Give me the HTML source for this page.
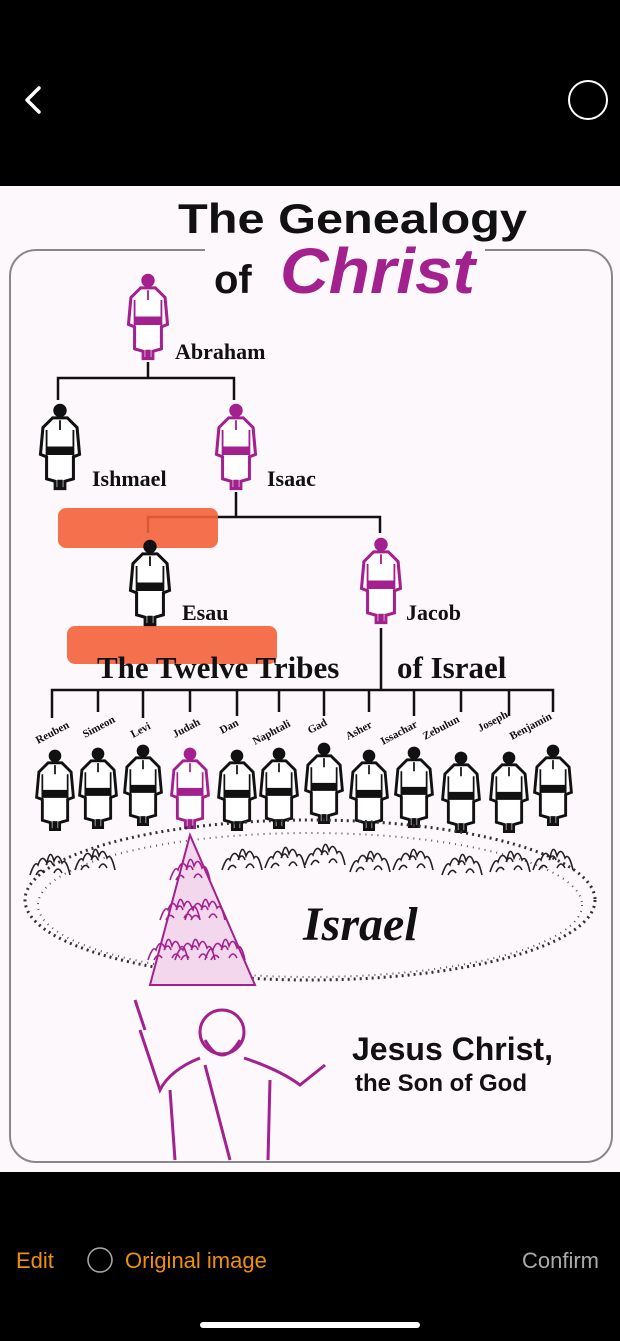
<!DOCTYPE html>
<html><head><meta charset="utf-8"><style>
html,body{margin:0;padding:0;width:620px;height:1341px;background:#000;overflow:hidden}
svg{display:block}
</style></head><body>
<svg width="620" height="1341" viewBox="0 0 620 1341" xmlns="http://www.w3.org/2000/svg">
<defs>
<g id="fig">
<circle cx="0" cy="-34" r="5"/>
<path d="M-6,-28 L6,-28 L14,-20 L16,2 L11,4 L11,22 L4,24 L4,30 L1,30 L1,24 L-1,24 L-1,30 L-4,30 L-4,24 L-11,22 L-11,4 L-16,2 L-14,-20 Z" fill="#fff" stroke-width="2.5"/>
<path d="M-11,-4 L11,-4 L11,2 L-11,2 Z"/>
<path d="M-11,-18 L-11,4 M11,-18 L11,4 M0,-26 L0,-18" fill="none" stroke-width="1.5"/>
</g>
<g id="crowd" fill="none" stroke-width="1.6">
<path d="M-20,20 Q-15,5 -12,10 Q-8,-2 -3,8 Q0,-8 4,6 Q8,-4 12,8 Q16,2 20,20 M-14,20 Q-10,12 -6,18 M4,18 Q8,10 12,18 M-4,10 Q0,2 3,10"/>
</g>
</defs>
<rect x="0" y="0" width="620" height="186" fill="#000"/>
<path d="M39,88 L27,100 L39,112" fill="none" stroke="#fff" stroke-width="3.5" stroke-linecap="round" stroke-linejoin="round"/>
<circle cx="588" cy="100" r="19" fill="none" stroke="#fff" stroke-width="2"/>
<rect x="0" y="186" width="620" height="986" fill="#fdf8fb"/>
<rect x="10" y="250" width="602" height="912" rx="26" fill="none" stroke="#888" stroke-width="2"/>
<rect x="176" y="192" width="360" height="56" fill="#fdf8fb"/>
<rect x="205" y="244" width="280" height="56" fill="#fdf8fb"/>
<text x="178" y="233" font-family="Liberation Sans, sans-serif" font-weight="bold" font-size="42" fill="#111" textLength="349" lengthAdjust="spacingAndGlyphs">The Genealogy</text>
<text x="214" y="293" font-family="Liberation Sans, sans-serif" font-weight="bold" font-size="40" fill="#111">of</text>
<text x="280" y="293" font-family="Liberation Sans, sans-serif" font-weight="bold" font-style="italic" font-size="64" fill="#a3208f" textLength="195" lengthAdjust="spacingAndGlyphs">Christ</text>

<g stroke="#111" stroke-width="2.5" fill="none">
<path d="M148,362 V378 M58,400 V378 H234 V400"/>
<path d="M236,492 V517 M148,533 V517 H380 V533"/>
<path d="M381,628 V690 M52,718 V690 H553 V712"/>
<path d="M98,690 V712 M143,690 V718 M190,690 V712 M237,690 V716 M279,690 V712 M324,690 V716 M369,690 V712 M414,690 V716 M461,690 V712 M509,690 V716"/>
</g>

<rect x="58" y="508" width="160" height="40" rx="8" fill="#f4603a" opacity="0.9"/>
<rect x="67" y="626" width="210" height="38" rx="8" fill="#f4603a" opacity="0.9"/>

<g font-family="Liberation Serif, serif" font-weight="bold" font-size="22" fill="#111">
<text x="175" y="359">Abraham</text>
<text x="92" y="486">Ishmael</text>
<text x="267" y="486">Isaac</text>
<text x="182" y="620">Esau</text>
<text x="406" y="620">Jacob</text>
</g>
<text x="97" y="678" font-family="Liberation Serif, serif" font-weight="bold" font-size="31" fill="#111">The Twelve Tribes</text>
<text x="397" y="678" font-family="Liberation Serif, serif" font-weight="bold" font-size="31" fill="#111">of Israel</text>

<g font-family="Liberation Serif, serif" font-weight="bold" font-size="11" fill="#111">
<text transform="translate(38,744) rotate(-28)">Reuben</text>
<text transform="translate(85,738) rotate(-28)">Simeon</text>
<text transform="translate(133,738) rotate(-28)">Levi</text>
<text transform="translate(175,738) rotate(-28)">Judah</text>
<text transform="translate(222,734) rotate(-28)">Dan</text>
<text transform="translate(255,745) rotate(-28)">Naphtali</text>
<text transform="translate(310,734) rotate(-28)">Gad</text>
<text transform="translate(348,740) rotate(-28)">Asher</text>
<text transform="translate(383,745) rotate(-28)">Issachar</text>
<text transform="translate(425,740) rotate(-28)">Zebulun</text>
<text transform="translate(480,732) rotate(-28)">Joseph</text>
<text transform="translate(512,740) rotate(-28)">Benjamin</text>
</g>

<g fill="#a3208f" stroke="#a3208f"><use href="#fig" transform="translate(148,322) scale(1.22)"/></g>
<g fill="#111" stroke="#111">
<use href="#fig" transform="translate(60,452) scale(1.22)"/>
<use href="#fig" transform="translate(150,588) scale(1.22)"/>
</g>
<g fill="#a3208f" stroke="#a3208f">
<use href="#fig" transform="translate(236,452) scale(1.22)"/>
<use href="#fig" transform="translate(381,586) scale(1.22)"/>
</g>
<g fill="#111" stroke="#111">
<use href="#fig" transform="translate(55,795) scale(1.15)"/>
<use href="#fig" transform="translate(98,793) scale(1.15)"/>
<use href="#fig" transform="translate(143,790) scale(1.15)"/>
<use href="#fig" transform="translate(237,795) scale(1.15)"/>
<use href="#fig" transform="translate(279,793) scale(1.15)"/>
<use href="#fig" transform="translate(324,788) scale(1.15)"/>
<use href="#fig" transform="translate(369,795) scale(1.15)"/>
<use href="#fig" transform="translate(414,792) scale(1.15)"/>
<use href="#fig" transform="translate(461,797) scale(1.15)"/>
<use href="#fig" transform="translate(509,797) scale(1.15)"/>
<use href="#fig" transform="translate(553,790) scale(1.15)"/>
</g>
<g fill="#a3208f" stroke="#a3208f"><use href="#fig" transform="translate(190,793) scale(1.15)"/></g>

<ellipse cx="310" cy="900" rx="285" ry="80" fill="none" stroke="#333" stroke-width="3" stroke-dasharray="2 4"/>
<ellipse cx="310" cy="905" rx="272" ry="72" fill="none" stroke="#555" stroke-width="2" stroke-dasharray="1 5"/>
<g stroke="#222">
<use href="#crowd" transform="translate(50,855)"/>
<use href="#crowd" transform="translate(95,850)"/>
<use href="#crowd" transform="translate(242,850)"/>
<use href="#crowd" transform="translate(285,848)"/>
<use href="#crowd" transform="translate(325,845)"/>
<use href="#crowd" transform="translate(370,852)"/>
<use href="#crowd" transform="translate(413,850)"/>
<use href="#crowd" transform="translate(462,855)"/>
<use href="#crowd" transform="translate(510,852)"/>
<use href="#crowd" transform="translate(553,850)"/>
</g>
<path d="M190,835 L150,985 L255,985 Z" fill="#f3d7ec" stroke="#a3208f" stroke-width="2"/>
<g stroke="#a3208f">
<use href="#crowd" transform="translate(190,860)"/>
<use href="#crowd" transform="translate(180,900)"/>
<use href="#crowd" transform="translate(205,900)"/>
<use href="#crowd" transform="translate(168,940)"/>
<use href="#crowd" transform="translate(195,940)"/>
<use href="#crowd" transform="translate(225,940)"/>
</g>
<text x="303" y="940" font-family="Liberation Serif, serif" font-weight="bold" font-style="italic" font-size="48" fill="#111">Israel</text>

<g stroke="#a3208f" fill="none" stroke-width="3">
<circle cx="222" cy="1032" r="22"/>
<path d="M205,1040 Q222,1070 240,1040"/>
<path d="M200,1058 Q170,1070 160,1090 L140,1030 M135,1000 L145,1030 M244,1058 Q280,1070 300,1085 L325,1065"/>
<path d="M170,1090 L175,1160 M270,1080 L268,1160 M205,1065 L230,1160"/>
</g>
<text x="352" y="1060" font-family="Liberation Sans, sans-serif" font-weight="bold" font-size="32" fill="#111">Jesus Christ,</text>
<text x="355" y="1091" font-family="Liberation Sans, sans-serif" font-weight="bold" font-size="24" fill="#111">the Son of God</text>

<rect x="0" y="1172" width="620" height="169" fill="#000"/>
<text x="16" y="1268" font-family="Liberation Sans, sans-serif" font-size="22" fill="#f0900a">Edit</text>
<circle cx="100" cy="1260" r="12" fill="none" stroke="#aaa" stroke-width="1.5"/>
<text x="125" y="1268" font-family="Liberation Sans, sans-serif" font-size="22" fill="#f0900a">Original image</text>
<text x="522" y="1268" font-family="Liberation Sans, sans-serif" font-size="22" fill="#aaa">Confirm</text>
<rect x="200" y="1322" width="220" height="6" rx="3" fill="#fff"/>
</svg>
</body></html>
